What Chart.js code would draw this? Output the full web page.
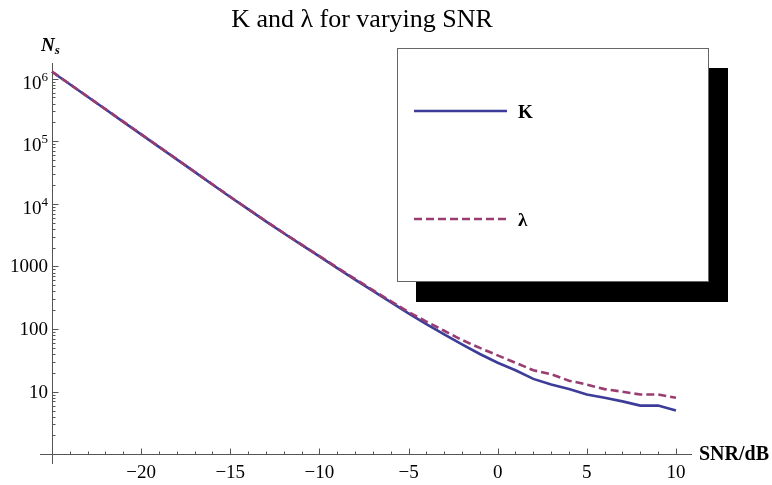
<!DOCTYPE html>
<html><head><meta charset="utf-8">
<script src="https://cdn.jsdelivr.net/npm/chart.js@4.4.1/dist/chart.umd.min.js"></script>
<style>html,body{margin:0;padding:0;background:#fff}canvas{display:block}</style>
</head><body>
<canvas id="c" width="772" height="485"></canvas>
<script>
// ---- data ----
const snrDb = [-25,-24,-23,-22,-21,-20,-19,-18,-17,-16,-15,-14,-13,-12,-11,-10,-9,-8,-7,-6,-5,-4,-3,-2,-1,0,1,2,3,4,5,6,7,8,9,10];
const kValues = [1290000,812000,513000,324000,204000,129000,81300,51300,32400,20400,12900,8220,5250,3390,2210,1445,944,617,407,269,178,120,82,57,40,29,22,16,13,11,9,8,7,6,6,5];
const lambdaValues = [1300000,818000,516000,326000,205500,130000,81900,51700,32600,20550,13000,8290,5300,3430,2240,1470,962,632,419,280,187,132,94,67,50,38,29,22,19,15,13,11,10,9,9,8];
const xTickValues = [-20,-15,-10,-5,0,5,10];
const xTickLabels = ['\u221220','\u221215','\u221210','\u22125','0','5','10'];
const yTickValues = [10,100,1000,10000,100000,1000000];
const yTickBase = ['10','100','1000','10','10','10'];
const yTickSup = ['','','','4','5','6'];
const seriesNames = ['K','\u03bb'];
const titleText = 'K and \u03bb for varying SNR';
const xAxisTitle = 'SNR/dB';

const colK = '#3d3d99';
const colL = '#993d71';
const SERIF = '"Liberation Serif","Times New Roman",serif';

const mmaPlugin = {
  id: 'mma',
  beforeDatasetsDraw(chart) {
    const {ctx, chartArea: a, scales: {x, y}} = chart;
    const x0 = Math.round(x.getPixelForValue(-25)) + 0.5;
    const y0 = Math.round(y.getPixelForValue(1)) + 0.5;
    ctx.save();
    ctx.strokeStyle = '#555';
    ctx.lineWidth = 1;
    ctx.beginPath();
    ctx.moveTo(x0, a.top); ctx.lineTo(x0, a.bottom);
    ctx.moveTo(a.left, y0); ctx.lineTo(a.right, y0);
    for (let v = -24; v <= 10; v++) {
      const px = Math.round(x.getPixelForValue(v)) + 0.5;
      const len = (v % 5 === 0) ? 6 : 3;
      ctx.moveTo(px, y0); ctx.lineTo(px, y0 - len);
    }
    for (let k = 0; k <= 6; k++) {
      for (let m = 1; m <= 9; m++) {
        const v = m * Math.pow(10, k);
        if (v > y.max) continue;
        if (k === 0 && m === 1) continue;
        const py = Math.round(y.getPixelForValue(v)) + 0.5;
        const len = (m === 1) ? 6 : 3;
        ctx.moveTo(x0, py); ctx.lineTo(x0 + len, py);
      }
    }
    ctx.stroke();
    ctx.fillStyle = '#000';
    ctx.font = '19px ' + SERIF;
    ctx.textAlign = 'center';
    ctx.textBaseline = 'middle';
    xTickValues.forEach((v, i) => {
      ctx.fillText(xTickLabels[i], x.getPixelForValue(v), 473);
    });
    const right = 48;
    yTickValues.forEach((v, i) => {
      const py = y.getPixelForValue(v);
      if (yTickSup[i]) {
        ctx.font = '13px ' + SERIF;
        ctx.textAlign = 'right';
        ctx.textBaseline = 'alphabetic';
        const sw = ctx.measureText(yTickSup[i]).width;
        ctx.fillText(yTickSup[i], right, py + 2);
        ctx.font = '19px ' + SERIF;
        ctx.textBaseline = 'middle';
        ctx.fillText(yTickBase[i], right - sw, py + 5);
      } else {
        ctx.font = '19px ' + SERIF;
        ctx.textAlign = 'right';
        ctx.textBaseline = 'middle';
        ctx.fillText(yTickBase[i], right, py + 1);
      }
    });
    ctx.textAlign = 'left';
    ctx.textBaseline = 'alphabetic';
    ctx.font = 'bold italic 19px ' + SERIF;
    ctx.fillText('N', 41, 51);
    const nw = ctx.measureText('N').width;
    ctx.font = 'bold italic 13px ' + SERIF;
    ctx.fillText('s', 41 + nw, 54);
    ctx.font = 'bold 20px ' + SERIF;
    ctx.textBaseline = 'middle';
    ctx.fillText(xAxisTitle, 699, 455);
    ctx.font = '26px ' + SERIF;
    ctx.textAlign = 'center';
    ctx.textBaseline = 'alphabetic';
    ctx.fillText(titleText, 362, 27);
    ctx.restore();
  },
  afterDatasetsDraw(chart) {
    const {ctx} = chart;
    ctx.save();
    ctx.fillStyle = '#000';
    ctx.fillRect(416, 68, 312, 234);
    ctx.fillStyle = '#fff';
    ctx.fillRect(397, 48, 311, 234);
    ctx.strokeStyle = '#666';
    ctx.lineWidth = 1;
    ctx.strokeRect(397.5, 48.5, 311, 233);
    ctx.lineWidth = 2.6;
    ctx.strokeStyle = colK;
    ctx.beginPath(); ctx.moveTo(414, 111); ctx.lineTo(507, 111); ctx.stroke();
    ctx.strokeStyle = colL;
    ctx.setLineDash([8, 4]);
    ctx.beginPath(); ctx.moveTo(414, 219); ctx.lineTo(506, 219); ctx.stroke();
    ctx.setLineDash([]);
    ctx.fillStyle = '#000';
    ctx.font = 'bold 19px ' + SERIF;
    ctx.textAlign = 'left';
    ctx.textBaseline = 'middle';
    ctx.fillText(seriesNames[0], 518, 113);
    ctx.fillText(seriesNames[1], 518, 221);
    ctx.restore();
  }
};

new Chart(document.getElementById('c'), {
  type: 'line',
  data: {
    datasets: [
      {label: seriesNames[0], data: snrDb.map((s, i) => ({x: s, y: kValues[i]})),
       borderColor: colK, borderWidth: 2.6, pointRadius: 0, fill: false, order: 1},
      {label: seriesNames[1], data: snrDb.map((s, i) => ({x: s, y: lambdaValues[i]})),
       borderColor: colL, borderWidth: 2.6, borderDash: [8, 4], pointRadius: 0, fill: false, order: 0}
    ]
  },
  options: {
    responsive: false,
    animation: false,
    devicePixelRatio: 1,
    layout: {padding: {left: 40, right: 80, top: 63, bottom: 21}},
    plugins: {legend: {display: false}, title: {display: false}, tooltip: {enabled: false}},
    elements: {line: {tension: 0}, point: {radius: 0}},
    scales: {
      x: {type: 'linear', min: -25.67, max: 10.9, display: false},
      y: {type: 'logarithmic', min: 0.741, max: 1778000, display: false}
    }
  },
  plugins: [mmaPlugin]
});
</script>
</body></html>
